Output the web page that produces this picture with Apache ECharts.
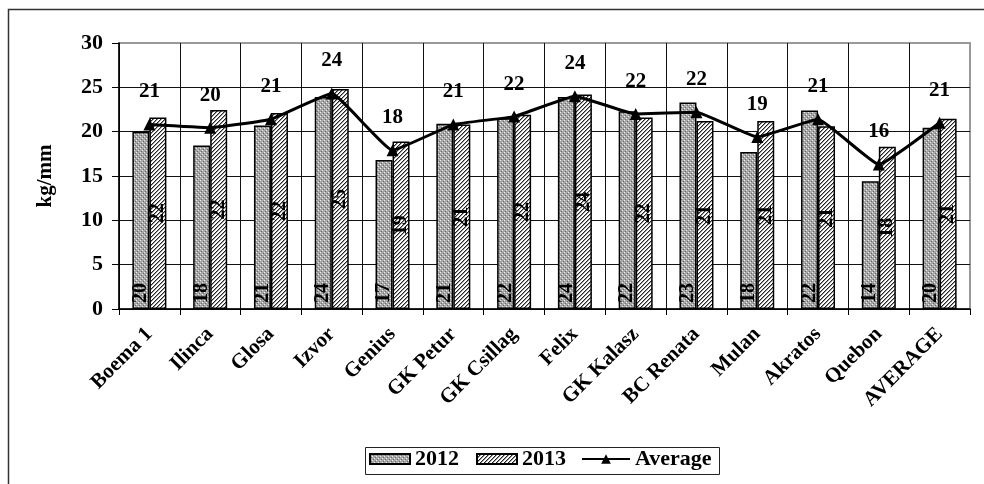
<!DOCTYPE html>
<html>
<head>
<meta charset="utf-8">
<script src="https://cdn.jsdelivr.net/npm/echarts@6/dist/echarts.min.js"></script>
<style>
  html, body { margin: 0; padding: 0; background: #fff; }
  #main { width: 984px; height: 484px; }
</style>
</head>
<body>
<div id="main"></div>
<script>
// data
var varieties = ['Boema 1', 'Ilinca', 'Glosa', 'Izvor', 'Genius', 'GK Petur', 'GK Csillag',
  'Felix', 'GK Kalasz', 'BC Renata', 'Mulan', 'Akratos', 'Quebon', 'AVERAGE'];
var values2012 = [20.0, 18.45, 20.7, 23.9, 16.8, 20.9, 21.5, 23.9, 22.3, 23.3, 17.7, 22.4, 14.4, 20.45];
var values2013 = [21.6, 22.45, 22.1, 24.8, 18.9, 20.8, 21.9, 24.2, 21.6, 21.2, 21.2, 20.6, 18.3, 21.45];
var averageValues = [20.8, 20.45, 21.4, 24.3, 17.9, 20.8, 21.7, 24.0, 22.0, 22.2, 19.4, 21.4, 16.3, 21.0];
var yTicks = [0, 5, 10, 15, 20, 25, 30];

var FONT = '"Liberation Serif", "Times New Roman", serif';

// small fill patterns like the excel ones
function crossPattern() {
  var c = document.createElement('canvas');
  c.width = 4; c.height = 4;
  var ctx = c.getContext('2d');
  ctx.fillStyle = '#a6a6a6';
  ctx.fillRect(0, 0, 4, 4);
  ctx.fillStyle = '#eeeeee';
  ctx.fillRect(0, 0, 1, 1);
  ctx.fillRect(2, 2, 1, 1);
  ctx.fillStyle = '#6a6a6a';
  ctx.fillRect(1, 3, 1, 1);
  ctx.fillRect(3, 1, 1, 1);
  return c;
}
function diagPattern() {
  var c = document.createElement('canvas');
  c.width = 4; c.height = 4;
  var ctx = c.getContext('2d');
  ctx.fillStyle = '#fff';
  ctx.fillRect(0, 0, 4, 4);
  for (var x = 0; x < 4; x++) {
    for (var y = 0; y < 4; y++) {
      var k = (x + y) % 4;
      if (k === 3) { ctx.fillStyle = '#222'; ctx.fillRect(x, y, 1, 1); }
      else if (k === 0) { ctx.fillStyle = '#999'; ctx.fillRect(x, y, 1, 1); }
    }
  }
  return c;
}

var chart = echarts.init(document.getElementById('main'));

var ySplitColors = yTicks.map(function (t, i) { return i === yTicks.length - 1 ? '#999' : '#111'; });
var xSplitColors = [];
for (var i = 0; i <= varieties.length; i++) xSplitColors.push(i === varieties.length ? '#999' : '#111');

var legendText = { fontFamily: FONT, fontWeight: 'bold', fontSize: 22, color: '#000' };

var option = {
  animation: false,
  backgroundColor: '#fff',
  textStyle: { fontFamily: FONT },
  graphic: [{
    type: 'rect', left: 6, top: 7, silent: true, z: -1,
    shape: { width: 1000, height: 500 },
    style: { fill: 'none', stroke: '#333', lineWidth: 1.5 }
  }, {
    // legend frame
    type: 'rect', left: 363, top: 445, silent: true,
    shape: { width: 354, height: 27 },
    style: { fill: 'none', stroke: '#222', lineWidth: 1 }
  }],
  legend: [{
    left: 367, top: 446,
    padding: [2, 2],
    itemGap: 17,
    itemWidth: 40, itemHeight: 10,
    textStyle: legendText,
    data: [{ name: '2012', icon: 'rect' }, { name: '2013', icon: 'rect' }]
  }, {
    left: 579, top: 446,
    padding: [2, 2],
    itemWidth: 48, itemHeight: 12,
    textStyle: legendText,
    data: [{ name: 'Average' }]
  }],
  grid: { left: 119, right: 14, top: 43, bottom: 175, show: true, borderColor: '#999', borderWidth: 2 },
  xAxis: {
    type: 'category',
    data: varieties,
    axisLine: { lineStyle: { color: '#000', width: 1.5 } },
    axisTick: { show: true, length: 6, lineStyle: { color: '#000', width: 1 } },
    splitLine: { show: true, lineStyle: { color: xSplitColors, width: 1 } },
    axisLabel: {
      rotate: 45, interval: 0, margin: 22, color: '#000',
      fontFamily: FONT, fontWeight: 'bold', fontSize: 21
    }
  },
  yAxis: {
    type: 'value',
    min: 0, max: 30, interval: 5,
    name: 'kg/mm',
    nameLocation: 'middle',
    nameGap: 63,
    nameRotate: 90,
    nameTextStyle: { fontFamily: FONT, fontWeight: 'bold', fontSize: 21, color: '#000' },
    axisLine: { show: true, lineStyle: { color: '#000', width: 1.5 } },
    axisTick: { show: true, length: 7, lineStyle: { color: '#000' } },
    splitLine: { show: true, lineStyle: { color: ySplitColors, width: 1 } },
    axisLabel: { margin: 16, color: '#000', fontFamily: FONT, fontWeight: 'bold', fontSize: 22 }
  },
  series: [
    {
      name: '2012', type: 'bar', data: values2012,
      barWidth: 17, barGap: '0%',
      itemStyle: { color: { image: crossPattern(), repeat: 'repeat' }, borderColor: '#000', borderWidth: 1.5 },
      label: {
        show: true, position: 'insideBottom', distance: 6, rotate: 90,
        align: 'left', verticalAlign: 'middle',
        fontFamily: FONT, fontWeight: 'bold', fontSize: 20, color: '#000',
        formatter: function (p) { return Math.round(p.value); }
      }
    },
    {
      name: '2013', type: 'bar', data: values2013,
      barWidth: 17,
      itemStyle: { color: { image: diagPattern(), repeat: 'repeat' }, borderColor: '#000', borderWidth: 1.5 },
      label: {
        show: true, position: 'inside', rotate: 90,
        fontFamily: FONT, fontWeight: 'bold', fontSize: 20, color: '#000',
        formatter: function (p) { return Math.round(p.value); }
      }
    },
    {
      name: 'Average', type: 'line', data: averageValues,
      smooth: 0.1,
      symbol: 'triangle', symbolSize: 12,
      lineStyle: { color: '#000', width: 3 },
      itemStyle: { color: '#000' },
      label: {
        show: true, position: 'top', distance: 16,
        fontFamily: FONT, fontWeight: 'bold', fontSize: 21, color: '#000',
        formatter: function (p) { return Math.round(p.value); }
      },
      z: 5
    }
  ]
};

chart.setOption(option);
</script>
</body>
</html>
